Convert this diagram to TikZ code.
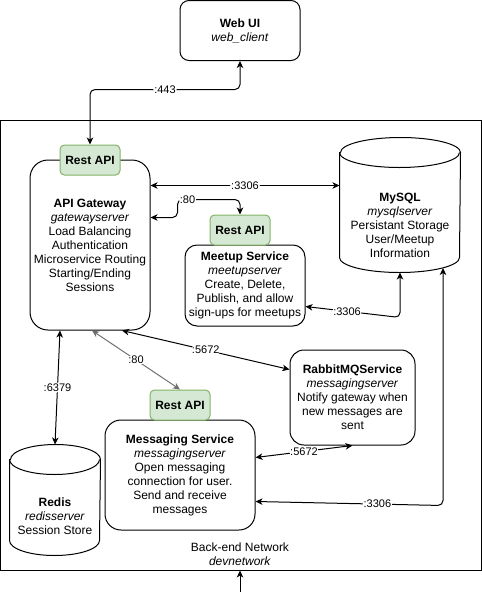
\documentclass[tikz,border=0pt]{standalone}
\usepackage{fontspec}
\setmainfont{Liberation Sans}
\usepackage{xcolor}
\usepackage{tikz}
\usetikzlibrary{arrows.meta}
\usetikzlibrary{positioning, calc}
\definecolor{apifill}{HTML}{D5E8D4}
\definecolor{apiline}{HTML}{82B366}
\definecolor{linkgray}{HTML}{707070}

\begin{document}
\begin{tikzpicture}[x=1pt, y=-1pt, line width=1pt,
  every node/.style={font=\fontsize{12}{14}\selectfont, align=center, inner sep=0pt},
  box/.style={draw, fill=white, rounded corners=#1},
  box/.default=12pt,
  restapi/.style={draw=apiline, fill=apifill, rounded corners=4.5pt, minimum width=60pt, minimum height=30pt, font=\fontsize{12}{14}\selectfont\bfseries},
  tip/.style={Stealth[length=7pt, width=6.5pt, inset=2pt]},
  link/.style={{Stealth[length=7pt, width=6.5pt, inset=2pt]}-{Stealth[length=7pt, width=6.5pt, inset=2pt]}, rounded corners=5pt},
  port/.style={fill=white, font=\fontsize{11}{13}\selectfont, inner sep=1pt}]
\useasboundingbox (0,0) rectangle (482,600);
\node[draw, minimum width=481pt, minimum height=450pt] (net) at (241,345) {}; % edit here for the network
\node (netlabel) at (240,554.5) {Back-end Network\\\textit{devnetwork}};
\node[box=9pt, minimum width=120pt, minimum height=60pt] (webui) at (240,30.5) {\textbf{Web UI}\\\textit{web\_client}};
\node[box=18pt, minimum width=120pt, minimum height=170pt] (gw) at (90,245)
{\textbf{API Gateway}\\\textit{gatewayserver}\\Load Balancing\\Authentication\\Microservice Routing\\Starting/Ending\\Sessions};
\node[box=12pt, minimum width=120pt, minimum height=81pt] (meetup) at (245,285.5)
{\textbf{Meetup Service}\\\textit{meetupserver}\\Create, Delete,\\Publish, and allow\\sign-ups for meetups};
\node[box=16pt, minimum width=150pt, minimum height=110pt] (msg) at (180,475)
{\textbf{Messaging Service}\\\textit{messagingserver}\\Open messaging\\connection for user.\\Send and receive\\messages};
\node[box=14pt, minimum width=125pt, minimum height=95pt] (rabbit) at (352.5,397.5)
{\textbf{RabbitMQService}\\\textit{messagingserver}\\Notify gateway when\\new messages are\\sent};
\foreach \name/\x/\y in {gwapi/90/160, meetupapi/240/230, msgapi/180/405} % edit here for the rest apis
\node[restapi] (\name) at (\x,\y) {Rest API};
% databases
\node[minimum width=120pt, minimum height=134pt] (mysql) at (400,205) {};
\draw[fill=white] ([yshift=-15pt]mysql.north west) -- ([yshift=15pt]mysql.south west)
  arc[start angle=180, end angle=360, x radius=60pt, y radius=15pt] -- ([yshift=-15pt]mysql.north east)
  arc[start angle=0, end angle=180, x radius=60pt, y radius=15pt] -- cycle;
\draw ([yshift=-15pt]mysql.north west) arc[start angle=180, end angle=360, x radius=60pt, y radius=15pt];
\node (mysqltext) at (400,225) {\textbf{MySQL}\\\textit{mysqlserver}\\Persistant Storage\\User/Meetup\\Information};
\node[minimum width=90pt, minimum height=110pt] (redis) at (55,500) {};
\draw[fill=white] ([yshift=-15pt]redis.north west) -- ([yshift=15pt]redis.south west)
  arc[start angle=180, end angle=360, x radius=45pt, y radius=15pt] -- ([yshift=-15pt]redis.north east)
  arc[start angle=0, end angle=180, x radius=45pt, y radius=15pt] -- cycle;
\draw ([yshift=-15pt]redis.north west) arc[start angle=180, end angle=360, x radius=45pt, y radius=15pt];
\node (redistext) at (55,516) {\textbf{Redis}\\\textit{redisserver}\\Session Store};
\coordinate (mysqlfoot) at ([xshift=43pt, yshift=4.5pt]mysql.south);
\coordinate (entry) at (240,592);
% connectors
\draw[link] (gwapi.north) -- ++(0,-55) -| node[port, pos=0.25] {:443} (webui.south);
\draw[link] ([yshift=-26pt]gw.north east) -- node[port] {:3306} ([yshift=-48pt]mysql.north west);
\draw[link] ([yshift=-58pt]gw.north east) -- ++(27,0) -- ++(0,-18) -| node[port, pos=0.08] {:80} (meetupapi.north);
\draw[link] ([yshift=-62pt]meetup.north east) -- node[port, pos=0.44] {:3306} ([yshift=-45pt]mysql.south) -- (mysql.south);
\draw[link] ([yshift=-82pt]msg.north east) -- node[port, pos=0.65] {:3306} ([yshift=-237.5pt]mysqlfoot) -- (mysqlfoot);
\draw[link] ([yshift=-38pt]msg.north east) -- node[port] {:5672} (rabbit.south);
\draw[link] ([xshift=32pt]gw.south) -- node[port] {:5672} ([yshift=-20pt]rabbit.north west);
\draw[link, draw=linkgray] ([xshift=2pt]gw.south) -- node[port] {:80} (msgapi.north);
\draw[link] ([xshift=-30pt]gw.south) -- node[port] {:6379} (redis.north);
\draw[-{Stealth[length=7pt, width=6.5pt, inset=2pt]}] (entry) -- (entry |- net.south);
\end{tikzpicture}
\end{document}
